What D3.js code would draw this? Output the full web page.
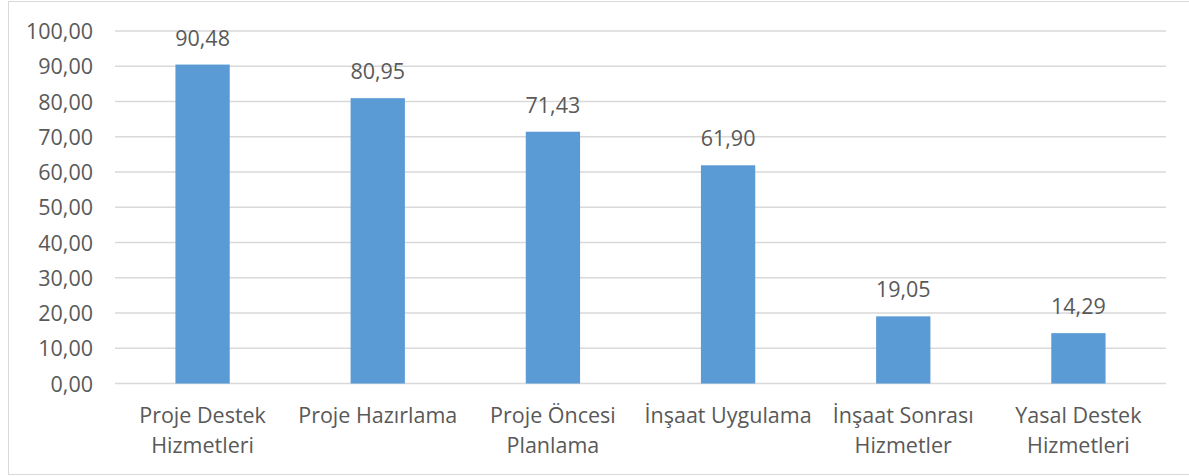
<!DOCTYPE html>
<html>
<head>
<meta charset="utf-8">
<script src="https://cdn.jsdelivr.net/npm/d3@7"></script>
<style>
  html, body { margin: 0; padding: 0; background: #fff; }
  svg { display: block; }
  text { font-family: "Open Sans", sans-serif; fill: #595959; }
</style>
</head>
<body>
<svg id="chart" width="1189" height="476"></svg>
<script>
const categories = [
  "Proje Destek\nHizmetleri",
  "Proje Hazırlama",
  "Proje Öncesi\nPlanlama",
  "İnşaat Uygulama",
  "İnşaat Sonrası\nHizmetler",
  "Yasal Destek\nHizmetleri"
];
const values = [90.48, 80.95, 71.43, 61.90, 19.05, 14.29];
const yTicks = [0, 10, 20, 30, 40, 50, 60, 70, 80, 90, 100];

const fmt = v => v.toFixed(2).replace(".", ",");

const svg = d3.select("#chart");
const plot = { left: 115, right: 1166, top: 31, bottom: 383.5 };
const FS = 21.5;

// outer border
svg.append("rect")
  .attr("x", 8.5).attr("y", 1.5)
  .attr("width", 1200).attr("height", 473)
  .attr("fill", "#fff").attr("stroke", "#d9d9d9").attr("stroke-width", 1);

const x = d3.scaleBand().domain(categories).range([plot.left, plot.right]).paddingInner(0.69).paddingOuter(0.345);
const y = d3.scaleLinear().domain([0, 100]).range([plot.bottom, plot.top]);

// gridlines
svg.append("g").selectAll("line").data(yTicks).join("line")
  .attr("x1", plot.left).attr("x2", plot.right)
  .attr("y1", d => y(d)).attr("y2", d => y(d))
  .attr("stroke", "#d9d9d9").attr("stroke-width", 1.3);

// y axis labels
const yAxis = d3.axisLeft(y).tickValues(yTicks).tickFormat(fmt).tickSize(0).tickPadding(22);
const gy = svg.append("g").attr("transform", `translate(${plot.left},0)`).call(yAxis);
gy.select(".domain").remove();
gy.selectAll("text").attr("font-size", FS).attr("fill", "#595959")
  .style("font-family", "'Open Sans', sans-serif").attr("dy", "0.35em");

// bars
svg.append("g").selectAll("rect").data(values).join("rect")
  .attr("x", (d, i) => x(categories[i]))
  .attr("width", x.bandwidth())
  .attr("y", d => y(d))
  .attr("height", d => y(0) - y(d))
  .attr("fill", "#5b9bd5");

// data labels
svg.append("g").selectAll("text").data(values).join("text")
  .attr("x", (d, i) => x(categories[i]) + x.bandwidth() / 2)
  .attr("y", d => y(d) - 19)
  .attr("text-anchor", "middle")
  .attr("font-size", FS)
  .text(d => fmt(d));

// x axis labels
const xl = svg.append("g");
categories.forEach((c, i) => {
  const lines = c.split("\n");
  const cx = x(c) + x.bandwidth() / 2;
  const t = xl.append("text")
    .attr("x", cx)
    .attr("y", 423)
    .attr("text-anchor", "middle")
    .attr("font-size", FS);
  lines.forEach((ln, j) => {
    t.append("tspan").attr("x", cx).attr("y", 423 + j * 29.5).text(ln);
  });
});
</script>
</body>
</html>
